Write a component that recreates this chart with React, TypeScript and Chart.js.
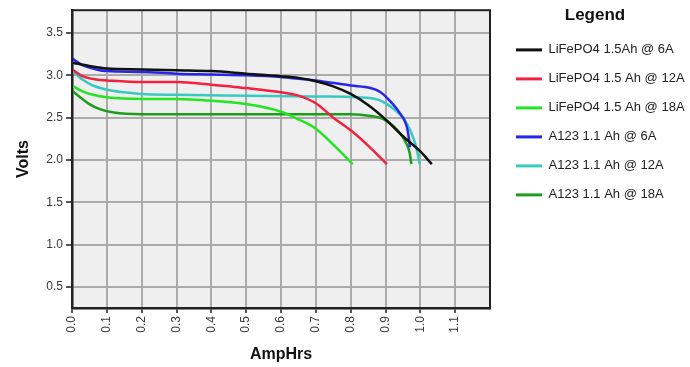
import React, { useEffect, useRef } from 'react';
import { Chart, registerables } from 'chart.js';

Chart.register(...registerables);

// ---- data ----
const xTicks = [0, 0.1, 0.2, 0.3, 0.4, 0.5, 0.6, 0.7, 0.8, 0.9, 1.0, 1.1];
const yTicks = [0.5, 1.0, 1.5, 2.0, 2.5, 3.0, 3.5];

const seriesLabels = [
  'LiFePO4 1.5Ah @ 6A',
  'LiFePO4 1.5 Ah @ 12A',
  'LiFePO4 1.5 Ah @ 18A',
  'A123 1.1 Ah @ 6A',
  'A123 1.1 Ah @ 12A',
  'A123 1.1 Ah @ 18A',
];

const lfp6Ah = [0, 0.05, 0.1, 0.2, 0.3, 0.4, 0.5, 0.6, 0.65, 0.7, 0.75, 0.8, 0.85, 0.9, 0.95, 1.0, 1.033];
const lfp6V = [3.15, 3.11, 3.08, 3.07, 3.06, 3.05, 3.02, 2.99, 2.97, 2.93, 2.87, 2.78, 2.65, 2.48, 2.28, 2.1, 1.95];

const lfp12Ah = [0, 0.03, 0.07, 0.1, 0.2, 0.3, 0.4, 0.45, 0.5, 0.6, 0.65, 0.7, 0.75, 0.8, 0.85, 0.904];
const lfp12V = [3.07, 2.99, 2.95, 2.94, 2.92, 2.92, 2.89, 2.87, 2.85, 2.8, 2.76, 2.67, 2.5, 2.35, 2.17, 1.95];

const lfp18Ah = [0, 0.03, 0.06, 0.1, 0.2, 0.3, 0.4, 0.5, 0.6, 0.65, 0.7, 0.75, 0.806];
const lfp18V = [2.88, 2.81, 2.77, 2.74, 2.72, 2.72, 2.7, 2.66, 2.57, 2.48, 2.37, 2.18, 1.95];

const a6Ah = [0, 0.03, 0.07, 0.1, 0.2, 0.3, 0.4, 0.5, 0.6, 0.65, 0.7, 0.8, 0.857, 0.886, 0.912, 0.94, 0.96, 0.967, 0.97];
const a6V = [3.2, 3.12, 3.07, 3.05, 3.04, 3.02, 3.01, 3.0, 2.98, 2.96, 2.94, 2.88, 2.85, 2.8, 2.7, 2.56, 2.41, 2.26, 2.15];

const a12Ah = [0, 0.03, 0.06, 0.1, 0.15, 0.2, 0.3, 0.5, 0.7, 0.818, 0.88, 0.904, 0.93, 0.95, 0.97, 0.984, 0.992, 0.998];
const a12V = [3.06, 2.95, 2.88, 2.83, 2.8, 2.78, 2.77, 2.76, 2.75, 2.74, 2.71, 2.66, 2.58, 2.5, 2.36, 2.21, 2.08, 1.95];

const a18Ah = [0, 0.03, 0.05, 0.08, 0.12, 0.2, 0.4, 0.6, 0.8, 0.857, 0.895, 0.935, 0.958, 0.97, 0.974];
const a18V = [2.82, 2.72, 2.66, 2.6, 2.56, 2.54, 2.54, 2.54, 2.54, 2.52, 2.48, 2.35, 2.21, 2.07, 1.95];

const seriesAh = [lfp6Ah, lfp12Ah, lfp18Ah, a6Ah, a12Ah, a18Ah];
const seriesV = [lfp6V, lfp12V, lfp18V, a6V, a12V, a18V];

// ---- styles ----
const COLORS = ['#111111', '#f4203f', '#22e622', '#2525ec', '#38c9c2', '#1c9e1c'];
const FONT = "'Liberation Sans', Arial, Helvetica, sans-serif";

const plotFrame = {
  id: 'plotFrame',
  beforeDraw(chart: any) {
    const { ctx, chartArea: a } = chart;
    ctx.save();
    ctx.fillStyle = '#efefef';
    ctx.fillRect(a.left, a.top, a.right - a.left, a.bottom - a.top);
    ctx.restore();
  },
  afterDraw(chart: any) {
    const { ctx, chartArea: a } = chart;
    ctx.save();
    ctx.strokeStyle = '#222222';
    ctx.lineWidth = 2;
    ctx.strokeRect(a.left, a.top, a.right - a.left, a.bottom - a.top);
    ctx.restore();
  },
};

const shiftLegend = {
  id: 'shiftLegend',
  afterLayout(chart: any) {
    const l = chart.legend;
    if (l) {
      l.left += 10;
      l.right += 10;
    }
  },
};

export default function App() {
  const ref = useRef<HTMLCanvasElement | null>(null);

  useEffect(() => {
    document.body.style.margin = '0';
    const canvas = ref.current;
    if (!canvas) return;
    Chart.defaults.font.family = FONT;

    const datasets = seriesLabels.map((label, i) => ({
      label,
      data: seriesAh[i].map((x, j) => ({ x, y: seriesV[i][j] })),
      borderColor: COLORS[i],
      backgroundColor: COLORS[i],
      borderWidth: 2.5,
      pointRadius: 0,
      fill: false,
      cubicInterpolationMode: 'monotone' as const,
    }));

    const chart = new Chart(canvas, {
      type: 'line',
      data: { datasets },
      plugins: [plotFrame, shiftLegend],
      options: {
        animation: false,
        responsive: true,
        maintainAspectRatio: false,
        layout: { padding: { top: 9, right: 10, left: 0, bottom: 0 } },
        plugins: {
          tooltip: { enabled: false },
          legend: {
            position: 'right',
            align: 'start',
            maxWidth: 190,
            title: {
              display: true,
              text: 'Legend',
              color: '#111',
              font: { size: 17, weight: 'bold', family: FONT },
              padding: { top: -2, bottom: 0 },
            },
            labels: {
              boxWidth: 26,
              boxHeight: 3,
              padding: 16,
              color: '#222',
              font: { size: 13, family: FONT },
              generateLabels: (c: any) =>
                Chart.defaults.plugins.legend.labels.generateLabels(c).map((it: any) => ({
                  ...it,
                  lineWidth: 0,
                  fillStyle: it.strokeStyle,
                })),
            },
          },
        },
        scales: {
          x: {
            type: 'linear',
            min: 0,
            max: 1.2,
            afterBuildTicks: (s: any) => {
              s.ticks = xTicks.map((v) => ({ value: v }));
            },
            afterFit: (s: any) => {
              s.height = 59;
            },
            ticks: {
              minRotation: 90,
              maxRotation: 90,
              padding: 3,
              color: '#3a3a3a',
              font: { size: 12, family: FONT },
              callback: (v: any) => Number(v).toFixed(1),
            },
            grid: { color: '#ababab', lineWidth: 2, tickLength: 5, tickColor: '#555' },
            border: { display: true, color: '#111', width: 2.5 },
            title: {
              display: true,
              text: 'AmpHrs',
              color: '#111',
              font: { size: 16, weight: 'bold', family: FONT },
              padding: { top: 0, bottom: 3 },
            },
          },
          y: {
            type: 'linear',
            min: 0.25,
            max: 3.77,
            afterBuildTicks: (s: any) => {
              s.ticks = yTicks.map((v) => ({ value: v }));
            },
            afterFit: (s: any) => {
              s.width = 72;
            },
            ticks: {
              padding: 3,
              color: '#3a3a3a',
              font: { size: 12, family: FONT },
              callback: (v: any) => Number(v).toFixed(1),
            },
            grid: { color: '#ababab', lineWidth: 2, tickLength: 6, tickColor: '#555' },
            border: { display: true, color: '#111', width: 2.5 },
            title: {
              display: true,
              text: 'Volts',
              color: '#111',
              font: { size: 16, weight: 'bold', family: FONT },
              padding: { top: 14, bottom: 0 },
            },
          },
        },
      },
    });

    return () => chart.destroy();
  }, []);

  return (
    <div style={{ width: 690, height: 367, position: 'relative', background: '#fff' }}>
      <canvas ref={ref} />
    </div>
  );
}
